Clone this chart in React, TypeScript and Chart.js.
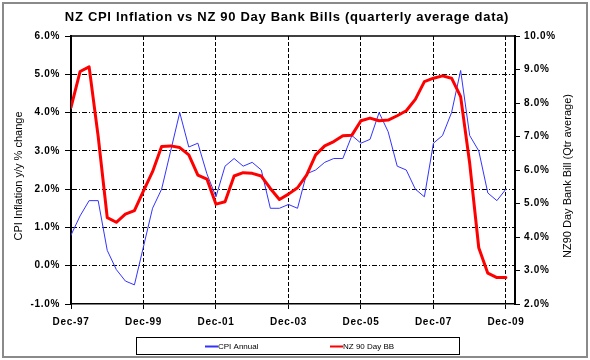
import { useEffect, useRef } from "react";
import { Chart, registerables } from "chart.js";

Chart.register(...registerables);

const quarters = [
  "Dec-97", "Mar-98", "Jun-98", "Sep-98", "Dec-98", "Mar-99", "Jun-99", "Sep-99",
  "Dec-99", "Mar-00", "Jun-00", "Sep-00", "Dec-00", "Mar-01", "Jun-01", "Sep-01",
  "Dec-01", "Mar-02", "Jun-02", "Sep-02", "Dec-02", "Mar-03", "Jun-03", "Sep-03",
  "Dec-03", "Mar-04", "Jun-04", "Sep-04", "Dec-04", "Mar-05", "Jun-05", "Sep-05",
  "Dec-05", "Mar-06", "Jun-06", "Sep-06", "Dec-06", "Mar-07", "Jun-07", "Sep-07",
  "Dec-07", "Mar-08", "Jun-08", "Sep-08", "Dec-08", "Mar-09", "Jun-09", "Sep-09",
  "Dec-09",
];

const cpiAnnual = [
  0.8, 1.3, 1.7, 1.7, 0.4, -0.1, -0.4, -0.5,
  0.5, 1.5, 2.0, 3.0, 4.0, 3.1, 3.2, 2.4,
  1.8, 2.6, 2.8, 2.6, 2.7, 2.5, 1.5, 1.5,
  1.6, 1.5, 2.4, 2.5, 2.7, 2.8, 2.8, 3.4,
  3.2, 3.3, 4.0, 3.5, 2.6, 2.5, 2.0, 1.8,
  3.2, 3.4, 4.0, 5.1, 3.4, 3.0, 1.9, 1.7,
  2.0,
];

const bankBill90 = [
  7.87, 8.94, 9.08, 7.0, 4.58, 4.44, 4.68, 4.79,
  5.38, 5.95, 6.70, 6.72, 6.67, 6.45, 5.85, 5.73,
  4.98, 5.05, 5.82, 5.92, 5.90, 5.82, 5.45, 5.12,
  5.28, 5.47, 5.85, 6.45, 6.72, 6.85, 7.02, 7.04,
  7.47, 7.55, 7.47, 7.49, 7.62, 7.77, 8.11, 8.64,
  8.74, 8.81, 8.74, 8.19, 6.2, 3.68, 2.92, 2.79,
  2.79,
];

const seriesNames = ["CPI Annual", "NZ 90 Day BB"];
const chartTitle = "NZ CPI Inflation vs NZ 90 Day Bank Bills (quarterly average data)";
const leftAxisTitle = "CPI Inflation y/y % change";
const rightAxisTitle = "NZ90 Day Bank Bill (Qtr average)";
const leftRange = [-1, 6];
const rightRange = [2, 10];
const xRange = [0, 49];

const FONT = "'Liberation Sans', Arial, sans-serif";

export default function App() {
  const canvasRef = useRef<HTMLCanvasElement | null>(null);

  useEffect(() => {
    const canvas = canvasRef.current;
    if (!canvas) return;

    const decor = {
      id: "decor",
      beforeDraw(chart: any) {
        const { ctx, width, height } = chart;
        ctx.fillStyle = "#ffffff";
        ctx.fillRect(0, 0, width, height);
        (ctx as any).letterSpacing = "0.7px";
      },
      afterDraw(chart: any) {
        const { ctx, chartArea } = chart;
        ctx.save();
        // plot top border
        ctx.strokeStyle = "#000";
        ctx.lineWidth = 1.5;
        ctx.beginPath();
        ctx.moveTo(chartArea.left, chartArea.top);
        ctx.lineTo(chartArea.right, chartArea.top);
        ctx.stroke();

        // title
        ctx.fillStyle = "#000";
        (ctx as any).letterSpacing = "0.7px";
        ctx.font = `bold 13px ${FONT}`;
        ctx.textAlign = "center";
        ctx.textBaseline = "middle";
        ctx.fillText(chartTitle, 287, 17);

        (ctx as any).letterSpacing = "0px";
        const midY = 176;
        // left axis title
        ctx.save();
        ctx.translate(19, midY);
        ctx.rotate(-Math.PI / 2);
        ctx.font = `11px ${FONT}`;
        ctx.textAlign = "center";
        ctx.textBaseline = "middle";
        ctx.fillText(leftAxisTitle, 0, 0);
        ctx.restore();

        // right axis title (reads bottom to top)
        ctx.save();
        ctx.translate(568, midY);
        ctx.rotate(-Math.PI / 2);
        ctx.font = `11px ${FONT}`;
        ctx.textAlign = "center";
        ctx.textBaseline = "middle";
        ctx.fillText(rightAxisTitle, 0, 0);
        ctx.restore();

        // legend box
        ctx.lineWidth = 1;
        ctx.strokeStyle = "#000";
        ctx.strokeRect(136.5, 337.5, 323, 17);
        const items = [
          { x: 205, ds: chart.data.datasets[0] },
          { x: 330, ds: chart.data.datasets[1] },
        ];
        ctx.font = `8px ${FONT}`;
        ctx.textAlign = "left";
        ctx.textBaseline = "middle";
        items.forEach((it) => {
          ctx.strokeStyle = it.ds.borderColor;
          ctx.lineWidth = 2;
          ctx.beginPath();
          ctx.moveTo(it.x, 346.5);
          ctx.lineTo(it.x + 13, 346.5);
          ctx.stroke();
          ctx.fillStyle = "#000";
          ctx.fillText(it.ds.label, it.x + 13, 347);
        });

        // outer chart border
        ctx.strokeStyle = "#8a8a8a";
        ctx.lineWidth = 2;
        ctx.strokeRect(3, 3, 584, 354);
        ctx.restore();
      },
    };

    const chart = new Chart(canvas, {
      type: "line",
      data: {
        datasets: [
          {
            label: seriesNames[0],
            data: cpiAnnual.map((v, i) => ({ x: i, y: v })),
            borderColor: "#3333ff",
            borderWidth: 1,
            pointRadius: 0,
            tension: 0,
            yAxisID: "y",
            order: 1,
          },
          {
            label: seriesNames[1],
            data: bankBill90.map((v, i) => ({ x: i, y: v })),
            borderColor: "#ff0000",
            borderWidth: 3,
            pointRadius: 0,
            tension: 0,
            yAxisID: "y1",
            order: 0,
          },
        ],
      },
      options: {
        responsive: false,
        animation: false,
        events: [],
        elements: { line: { borderJoinStyle: "round", borderCapStyle: "round" } },
        layout: { padding: { top: 36, left: 0, right: 0, bottom: 0 } },
        plugins: { legend: { display: false }, tooltip: { enabled: false }, title: { display: false } },
        scales: {
          x: {
            type: "linear",
            min: xRange[0],
            max: xRange[1],
            offset: false,
            afterFit: (scale: any) => {
              scale.height = 56;
            },
            border: { display: true, color: "#000", width: 1.5, dash: [4, 2] },
            grid: {
              color: (c: any) => (c.tick && c.tick.value === 0 ? "rgba(0,0,0,0)" : "#000"),
              tickColor: "#000",
              lineWidth: 1,
              tickLength: 5,
            },
            ticks: {
              stepSize: 8,
              includeBounds: false,
              autoSkip: false,
              maxRotation: 0,
              padding: 7,
              color: "#000",
              font: { family: FONT, size: 10, weight: "bold" },
              callback: (v: any) => quarters[v] ?? "",
            },
          },
          y: {
            type: "linear",
            position: "left",
            min: leftRange[0],
            max: leftRange[1],
            afterFit: (scale: any) => {
              scale.width = 71;
            },
            border: { display: true, color: "#000", width: 2, dash: [5, 2, 1, 2] },
            grid: {
              color: (c: any) =>
                c.tick && (c.tick.value === leftRange[0] || c.tick.value === leftRange[1])
                  ? "rgba(0,0,0,0)"
                  : "#000",
              tickColor: "#000",
              lineWidth: 1,
              tickLength: 6,
            },
            ticks: {
              stepSize: 1,
              padding: 5,
              color: "#000",
              font: { family: FONT, size: 10, weight: "bold" },
              callback: (v: any) => Number(v).toFixed(1) + "%",
            },
          },
          y1: {
            type: "linear",
            position: "right",
            min: rightRange[0],
            max: rightRange[1],
            afterFit: (scale: any) => {
              scale.width = 75;
            },
            border: { display: true, color: "#000", width: 2 },
            grid: { drawOnChartArea: false, color: "#000", tickColor: "#000", tickLength: 5 },
            ticks: {
              stepSize: 1,
              padding: 4,
              color: "#000",
              font: { family: FONT, size: 10, weight: "bold" },
              callback: (v: any) => Number(v).toFixed(1) + "%",
            },
          },
        },
      },
      plugins: [decor],
    } as any);

    return () => chart.destroy();
  }, []);

  return (
    <div style={{ position: "fixed", left: 0, top: 0, width: 590, height: 360 }}>
      <canvas ref={canvasRef} width={590} height={360} style={{ width: 590, height: 360 }} />
    </div>
  );
}
